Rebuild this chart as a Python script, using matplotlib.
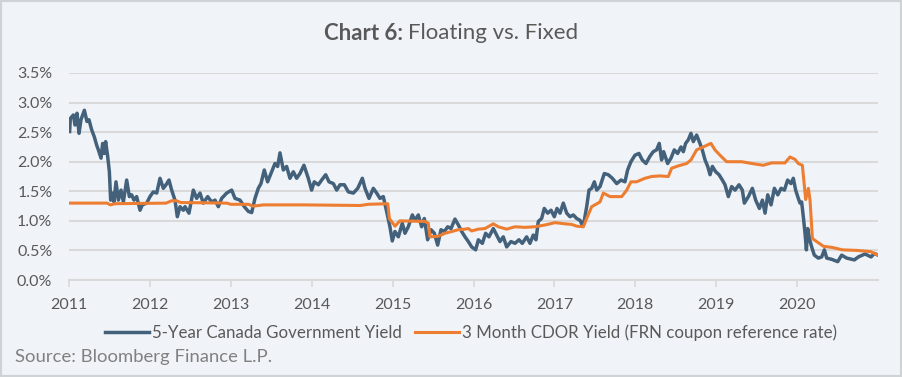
import matplotlib
matplotlib.use("Agg")
import matplotlib.pyplot as plt
from matplotlib.patches import Rectangle

plt.rcParams['font.family'] = ['Lato', 'DejaVu Sans']

# 5-Year Canada Government Yield (fractional year, %)
gov_x = [2011.008, 2011.016, 2011.054, 2011.074, 2011.099, 2011.124, 2011.148, 2011.190, 2011.222, 2011.247,
         2011.280, 2011.313, 2011.342, 2011.363, 2011.396, 2011.416, 2011.437, 2011.453, 2011.478, 2011.499,
         2011.515, 2011.536, 2011.556, 2011.581, 2011.610, 2011.643, 2011.672, 2011.713, 2011.746, 2011.775,
         2011.803, 2011.836, 2011.878, 2011.906, 2011.960, 2012.001, 2012.042, 2012.084, 2012.125, 2012.166,
         2012.199, 2012.236, 2012.269, 2012.310, 2012.339, 2012.372, 2012.413,
         2012.434, 2012.483, 2012.537, 2012.578, 2012.619, 2012.660, 2012.714, 2012.763, 2012.805, 2012.846,
         2012.887, 2012.949, 2013.011, 2013.052, 2013.114, 2013.167, 2013.217, 2013.258, 2013.299, 2013.340,
         2013.373, 2013.414, 2013.455, 2013.505, 2013.546, 2013.579, 2013.608, 2013.649, 2013.690, 2013.731,
         2013.773, 2013.814, 2013.855, 2013.904, 2013.958, 2013.999, 2014.032, 2014.082, 2014.123, 2014.173,
         2014.214, 2014.268, 2014.309, 2014.350, 2014.404, 2014.453, 2014.515, 2014.569, 2014.626, 2014.659,
         2014.708, 2014.762, 2014.803, 2014.844, 2014.885, 2014.926, 2014.967, 2014.996, 2015.029, 2015.071,
         2015.120, 2015.153, 2015.194, 2015.244, 2015.277, 2015.318, 2015.359, 2015.392, 2015.433, 2015.475,
         2015.516, 2015.557, 2015.598, 2015.640, 2015.681, 2015.722, 2015.771, 2015.813, 2015.854, 2015.895,
         2015.936, 2015.977, 2016.027, 2016.060, 2016.109, 2016.150, 2016.191, 2016.245, 2016.286, 2016.327,
         2016.368, 2016.410, 2016.463, 2016.513, 2016.562, 2016.603, 2016.657, 2016.698, 2016.739, 2016.772,
         2016.801, 2016.842, 2016.875, 2016.917, 2016.958, 2016.999, 2017.032, 2017.070, 2017.110, 2017.152,
         2017.193, 2017.234, 2017.275, 2017.316, 2017.345, 2017.370, 2017.399, 2017.428, 2017.461, 2017.494,
         2017.523, 2017.564, 2017.617, 2017.666, 2017.716, 2017.770, 2017.823, 2017.872, 2017.905, 2017.946,
         2017.996, 2018.045, 2018.086, 2018.132, 2018.180, 2018.222, 2018.263, 2018.296, 2018.325, 2018.350,
         2018.400, 2018.441, 2018.482, 2018.523, 2018.565, 2018.594, 2018.622, 2018.655, 2018.688, 2018.717,
         2018.758, 2018.799, 2018.828, 2018.862, 2018.895, 2018.924, 2018.953, 2018.994, 2019.035, 2019.076,
         2019.109, 2019.150, 2019.191, 2019.233, 2019.282, 2019.323, 2019.348, 2019.398, 2019.447, 2019.488,
         2019.534, 2019.571, 2019.604, 2019.637, 2019.678, 2019.719, 2019.761, 2019.802, 2019.843, 2019.883,
         2019.924, 2019.953, 2019.982, 2020.015, 2020.036, 2020.056, 2020.077, 2020.098, 2020.115, 2020.131,
         2020.156, 2020.180, 2020.213, 2020.263, 2020.304, 2020.337, 2020.366, 2020.427, 2020.502, 2020.551,
         2020.613, 2020.708, 2020.757, 2020.840, 2020.914, 2020.955, 2021.000]
gov_y = [2.51, 2.73, 2.79, 2.62, 2.82, 2.48, 2.71, 2.87, 2.68, 2.71,
         2.54, 2.42, 2.28, 2.20, 2.06, 2.31, 2.14, 2.34, 2.09, 1.83,
         1.35, 1.47, 1.32, 1.66, 1.35, 1.52, 1.32, 1.69, 1.41, 1.44,
         1.35, 1.41, 1.18, 1.27, 1.30, 1.41, 1.49, 1.47, 1.72, 1.55,
         1.61, 1.69, 1.52, 1.35, 1.07, 1.24, 1.18,
         1.24, 1.13, 1.52, 1.38, 1.47, 1.30, 1.41, 1.32, 1.35, 1.24,
         1.38, 1.47, 1.52, 1.38, 1.35, 1.24, 1.16, 1.14, 1.38, 1.55,
         1.63, 1.86, 1.66, 1.83, 1.97, 1.92, 2.15, 1.86, 1.92, 1.72,
         1.83, 1.72, 1.80, 1.94, 1.72, 1.52, 1.66, 1.61, 1.69, 1.78,
         1.66, 1.63, 1.52, 1.61, 1.61, 1.49, 1.47, 1.55, 1.72, 1.55,
         1.38, 1.55, 1.47, 1.38, 1.41, 1.16, 0.90, 0.66, 0.82, 0.73,
         0.96, 0.79, 0.90, 1.10, 1.01, 1.10, 0.90, 1.04, 0.68, 0.85,
         0.79, 0.59, 0.85, 0.82, 0.90, 0.87, 1.03, 0.93, 0.82, 0.73,
         0.65, 0.56, 0.51, 0.68, 0.62, 0.79, 0.73, 0.87, 0.76, 0.65,
         0.73, 0.56, 0.65, 0.62, 0.68, 0.62, 0.73, 0.62, 0.76, 0.68,
         0.99, 1.04, 1.21, 1.13, 1.18, 1.07, 1.21, 1.13, 1.30, 1.13,
         1.07, 1.10, 1.04, 1.01, 0.93, 1.01, 1.24, 1.52, 1.55, 1.66,
         1.52, 1.58, 1.80, 1.78, 1.72, 1.63, 1.69, 1.66, 1.86, 2.00,
         2.11, 2.14, 2.03, 1.97, 2.09, 2.17, 2.20, 2.31, 2.03, 2.17,
         1.97, 2.06, 2.20, 2.14, 2.25, 2.17, 2.31, 2.37, 2.48, 2.34,
         2.45, 2.31, 2.20, 2.03, 1.92, 1.78, 1.92, 1.83, 1.78, 1.69,
         1.61, 1.41, 1.58, 1.52, 1.61, 1.52, 1.30, 1.41, 1.55, 1.35,
         1.21, 1.35, 1.13, 1.44, 1.27, 1.55, 1.44, 1.55, 1.52, 1.69,
         1.63, 1.72, 1.52, 1.38, 1.30, 1.32, 1.07, 0.79, 0.51, 0.87,
         0.68, 0.56, 0.42, 0.37, 0.39, 0.51, 0.37, 0.35, 0.31, 0.42,
         0.37, 0.34, 0.39, 0.44, 0.39, 0.45, 0.42]

# 3 Month CDOR Yield (fractional year, %)
cdor_x = [2011.000, 2011.470, 2011.510, 2011.570, 2012.200, 2012.270, 2012.330, 2012.380, 2012.950, 2013.000,
          2013.220, 2013.270, 2013.350, 2013.400, 2013.900, 2014.600, 2014.700, 2014.940, 2014.960, 2015.030,
          2015.090, 2015.400, 2015.441, 2015.462, 2015.565, 2015.647, 2015.730, 2015.813, 2015.895, 2015.936,
          2015.977, 2016.060, 2016.142, 2016.245, 2016.307, 2016.410, 2016.513, 2016.636, 2016.759, 2016.884,
          2017.007, 2017.131, 2017.214, 2017.275, 2017.358, 2017.399, 2017.461, 2017.564, 2017.605, 2017.688,
          2017.832, 2017.894, 2017.946, 2018.016, 2018.120, 2018.202, 2018.305, 2018.408, 2018.449, 2018.532,
          2018.635, 2018.688, 2018.758, 2018.840, 2018.935, 2018.985, 2019.047, 2019.129, 2019.315, 2019.438,
          2019.582, 2019.685, 2019.850, 2019.912, 2019.974, 2020.015, 2020.065, 2020.106, 2020.139, 2020.160,
          2020.189, 2020.242, 2020.325, 2020.436, 2020.559, 2020.744, 2020.909, 2021.000]
cdor_y = [1.30, 1.30, 1.27, 1.29, 1.30, 1.34, 1.34, 1.31, 1.30, 1.28,
          1.28, 1.25, 1.26, 1.27, 1.27, 1.26, 1.28, 1.29, 1.04, 0.91,
          1.00, 0.99, 0.96, 0.73, 0.74, 0.79, 0.82, 0.85, 0.86, 0.87,
          0.83, 0.86, 0.87, 0.95, 0.90, 0.86, 0.90, 0.89, 0.90, 0.93,
          0.97, 0.95, 0.94, 0.91, 0.90, 1.04, 1.24, 1.32, 1.47, 1.41,
          1.41, 1.52, 1.66, 1.66, 1.72, 1.75, 1.76, 1.75, 1.89, 1.93,
          1.97, 2.03, 2.20, 2.25, 2.31, 2.20, 2.11, 2.00, 2.00, 1.97,
          1.94, 1.98, 1.98, 2.08, 2.04, 1.97, 1.94, 1.36, 1.55, 1.35,
          0.70, 0.65, 0.57, 0.55, 0.51, 0.50, 0.48, 0.42]

years = [2011, 2012, 2013, 2014, 2015, 2016, 2017, 2018, 2019, 2020]
y_ticks = [0.0, 0.5, 1.0, 1.5, 2.0, 2.5, 3.0, 3.5]

BG = '#F0F4F8'
GRID = '#D9D9D9'
TXT = '#595959'
BLUE = '#44617B'
ORANGE = '#ED7D31'

fig = plt.figure(figsize=(9.02, 3.77), dpi=100, facecolor=BG)
fig.patches.append(Rectangle((0, 0), 1, 1, transform=fig.transFigure,
                             facecolor='none', edgecolor='#D0D3D6', linewidth=3))

ax = fig.add_axes([69/902, 1-280/377, (878-69)/902, (280-73)/377])
ax.set_facecolor(BG)
ax.plot(gov_x, gov_y, color=BLUE, lw=2.5, label='5-Year Canada Government Yield',
        solid_joinstyle='round', zorder=3)
ax.plot(cdor_x, cdor_y, color=ORANGE, lw=2.2,
        label='3 Month CDOR Yield (FRN coupon reference rate)', zorder=4)

ax.set_xlim(2011, 2021)
ax.set_ylim(0, 3.5)
ax.set_yticks(y_ticks)
ax.set_yticklabels([f'{v:.1f}%' for v in y_ticks])
ax.set_xticks(years)
ax.set_xticklabels([str(y) for y in years])
ax.grid(axis='y', color=GRID, lw=1.5)
ax.set_axisbelow(True)
for s in ['top', 'right', 'left']:
    ax.spines[s].set_visible(False)
ax.spines['bottom'].set_color(GRID)
ax.spines['bottom'].set_linewidth(1.5)
ax.tick_params(axis='y', length=0, pad=12, labelsize=11.5, labelcolor=TXT)
ax.tick_params(axis='x', length=5, width=1.2, color=GRID, pad=8, labelsize=11.5, labelcolor=TXT)

# Title: bold prefix + regular remainder, centred as a whole
r = fig.canvas.get_renderer()
t1 = fig.text(0.5, 1-33/377, 'Chart 6: ', ha='left', va='center', fontsize=16,
              fontweight='bold', color=TXT)
t2 = fig.text(0.5, 1-33/377, 'Floating vs. Fixed', ha='left', va='center', fontsize=16,
              color=TXT)
w1 = t1.get_window_extent(r).width
w2 = t2.get_window_extent(r).width
x0 = 451 - (w1 + w2)/2
t1.set_x(x0/902)
t2.set_x((x0 + w1)/902)

leg = fig.legend(loc='center', bbox_to_anchor=(471/902, 1-333/377), ncol=2, frameon=False,
                 fontsize=12.2, handlelength=2.6, handletextpad=0.15, columnspacing=0.8,
                 labelcolor=TXT)
fig.text(15/902, 1-357/377, 'Source: Bloomberg Finance L.P.', ha='left', va='center',
         fontsize=13.3, color='#808080')

fig.savefig('out.png', dpi=100, facecolor=BG)
